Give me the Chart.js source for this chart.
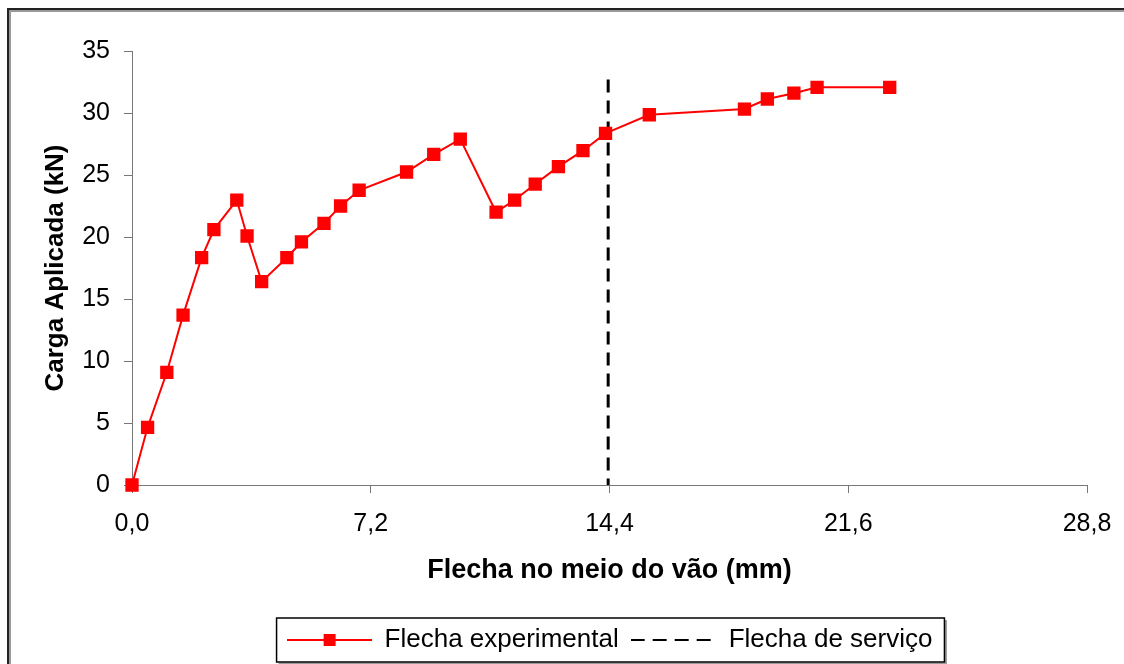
<!DOCTYPE html>
<html lang="pt">
<head>
  <title>Flecha no meio do vão</title>
  <meta charset="utf-8">
  <style>
    body { margin: 0; background: #fff; }
    #myChart { display: block; }
  </style>
</head>
<body>
  <canvas id="myChart" width="1124" height="664"></canvas>

  <script src="https://cdn.jsdelivr.net/npm/chart.js@4.4.0/dist/chart.umd.min.js"></script>
  <script>
    // deflection (mm) vs applied load (kN)
    var flecha = [0, 0.47, 1.05, 1.54, 2.10, 2.47, 3.16, 3.47, 3.91, 4.67, 5.11, 5.79, 6.29, 6.85,
                  8.28, 9.10, 9.90, 10.98, 11.54, 12.16, 12.86, 13.60, 14.28, 15.60,
                  18.47, 19.16, 19.96, 20.66, 22.85];
    var carga = [0, 4.65, 9.09, 13.7, 18.33, 20.6, 22.98, 20.08, 16.4, 18.33, 19.6, 21.1, 22.5, 23.77,
                 25.24, 26.67, 27.9, 22.0, 22.98, 24.27, 25.67, 26.96, 28.36, 29.86,
                 30.32, 31.13, 31.6, 32.07, 32.07];

    // service deflection limit (vertical dashed line)
    var servicoX = [14.36, 14.36];
    var servicoY = [32.7, 0];

    var xTicks = [0, 7.2, 14.4, 21.6, 28.8];
    var yTicks = [0, 5, 10, 15, 20, 25, 30, 35];

    var font = "'Liberation Sans', Arial, sans-serif";

    // little legend samples: line with marker, dashed line
    function sampleExp() {
      var c = document.createElement('canvas');
      c.width = 85; c.height = 14;
      var g = c.getContext('2d');
      g.strokeStyle = '#ff0000'; g.lineWidth = 2;
      g.beginPath(); g.moveTo(0, 7); g.lineTo(85, 7); g.stroke();
      g.fillStyle = '#ff0000';
      g.fillRect(37, 1, 12, 12);
      return c;
    }
    function sampleServ() {
      var c = document.createElement('canvas');
      c.width = 85; c.height = 14;
      var g = c.getContext('2d');
      g.strokeStyle = '#000'; g.lineWidth = 2;
      g.setLineDash([14, 8]);
      g.beginPath(); g.moveTo(0, 7); g.lineTo(85, 7); g.stroke();
      return c;
    }
    var samples = [sampleExp(), sampleServ()];

    // outer frame + border round the legend
    var frames = {
      id: 'frames',
      beforeDraw: function(chart) {
        var ctx = chart.ctx;
        ctx.save();
        ctx.fillStyle = '#fff';
        ctx.fillRect(0, 0, chart.width, chart.height);
        ctx.strokeStyle = '#999'; ctx.lineWidth = 2;
        ctx.strokeRect(10, 11, chart.width + 20, chart.height + 20);
        ctx.strokeStyle = '#222'; ctx.lineWidth = 2;
        ctx.strokeRect(8, 9, chart.width + 20, chart.height + 20);
        ctx.restore();
      },
      afterDraw: function(chart) {
        var boxes = chart.legend.legendHitBoxes;
        if (!boxes || !boxes.length) return;
        var first = boxes[0], last = boxes[boxes.length - 1];
        var left = first.left - 10, right = last.left + last.width + 12;
        var cy = first.top + first.height / 2;
        var top = cy - 22, h = 44;
        var ctx = chart.ctx;
        ctx.save();
        ctx.strokeStyle = '#999'; ctx.lineWidth = 2;
        ctx.beginPath();
        ctx.moveTo(left + 2, top + h + 1.5); ctx.lineTo(right + 1.5, top + h + 1.5); ctx.lineTo(right + 1.5, top + 2);
        ctx.stroke();
        ctx.strokeStyle = '#000'; ctx.lineWidth = 1.5;
        ctx.strokeRect(left, top, right - left, h);
        ctx.restore();
      }
    };

    var ctx = document.getElementById('myChart').getContext('2d');
    var chart = new Chart(ctx, {
      type: 'scatter',
      data: {
        datasets: [{
          label: 'Flecha experimental',
          data: flecha.map(function(v, i) { return {x: v, y: carga[i]}; }),
          showLine: true,
          clip: false,
          borderColor: '#ff0000',
          backgroundColor: '#ff0000',
          borderWidth: 2,
          pointStyle: 'rect',
          pointRadius: 8,
          pointHoverRadius: 8,
          lineTension: 0
        }, {
          label: 'Flecha de serviço',
          data: servicoX.map(function(v, i) { return {x: v, y: servicoY[i]}; }),
          showLine: true,
          borderColor: '#000',
          borderWidth: 3,
          borderDash: [13, 8],
          pointRadius: 0
        }]
      },
      options: {
        responsive: false,
        animation: false,
        layout: { padding: { left: 0, right: 37, top: 51, bottom: 1 } },
        scales: {
          x: {
            type: 'linear',
            min: 0, max: 28.8,
            afterFit: function(s) {
              s.height = 130;
              // keep the plot edges fixed, end labels just overhang
              s.paddingLeft = 20;
              s.paddingRight = 20;
            },
            afterBuildTicks: function(s) { s.ticks = xTicks.map(function(v) { return {value: v}; }); },
            grid: { drawOnChartArea: false, tickLength: 8, color: '#777' },
            border: { color: '#777', width: 1 },
            ticks: {
              padding: 16,
              color: '#000',
              font: { family: font, size: 25 },
              callback: function(v) { return v.toFixed(1).replace('.', ','); }
            },
            title: {
              display: true,
              text: 'Flecha no meio do vão (mm)',
              color: '#000',
              font: { family: font, size: 27, weight: 'bold' },
              padding: { top: 0, bottom: 28 }
            }
          },
          y: {
            min: 0, max: 35,
            afterFit: function(s) { s.width = 132; },
            afterBuildTicks: function(s) { s.ticks = yTicks.map(function(v) { return {value: v}; }); },
            grid: { drawOnChartArea: false, tickLength: 8, color: '#777' },
            border: { color: '#777', width: 1 },
            ticks: {
              padding: 14,
              color: '#000',
              font: { family: font, size: 25 }
            },
            title: {
              display: true,
              text: 'Carga Aplicada (kN)',
              color: '#000',
              font: { family: font, size: 26, weight: 'bold' },
              padding: { top: 40, bottom: 0 }
            }
          }
        },
        plugins: {
          tooltip: { enabled: false },
          legend: {
            position: 'bottom',
            fullSize: false,
            labels: {
              usePointStyle: true,
              pointStyleWidth: 85,
              padding: 12,
              color: '#000',
              font: { family: font, size: 26 },
              generateLabels: function(chart) {
                var items = Chart.defaults.plugins.legend.labels.generateLabels(chart);
                items.forEach(function(it, i) { it.pointStyle = samples[i]; });
                return items;
              }
            }
          }
        }
      },
      plugins: [frames]
    });
  </script>
</body>
</html>
